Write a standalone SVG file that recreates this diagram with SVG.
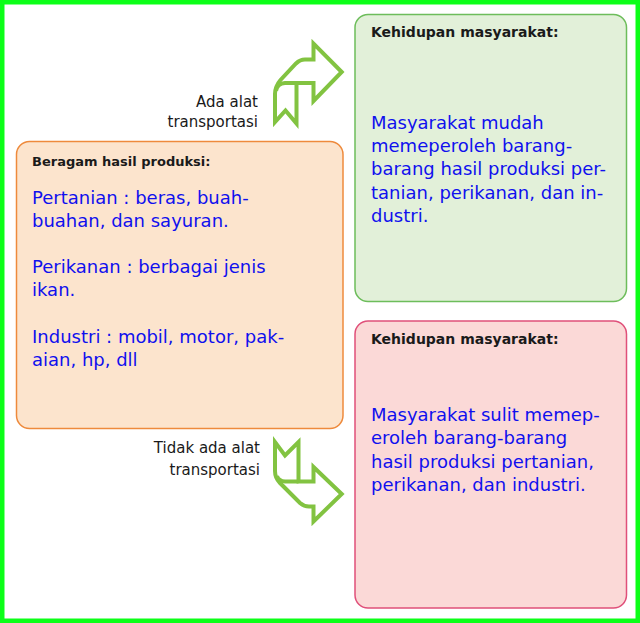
<svg xmlns="http://www.w3.org/2000/svg" width="640" height="623" viewBox="0 0 640 623">
<style>
.hdr{font-family:"DejaVu Sans",sans-serif;font-weight:bold;fill:#1a1a1a}
.blue{font-family:"DejaVu Sans",sans-serif;font-size:18px;fill:#1010ee}
.lbl{font-family:"DejaVu Sans",sans-serif;font-size:15px;fill:#1a1a1a;text-anchor:end}
.arrow{fill:none;stroke:#82c341;stroke-width:4;stroke-linejoin:miter}
</style>
<rect x="0" y="0" width="640" height="623" fill="#ffffff"/>
<rect x="2.25" y="2.25" width="635.5" height="618.5" fill="none" stroke="#0cff18" stroke-width="4.5"/>

<g id="produksi">
<rect x="16.5" y="141.5" width="326.5" height="287" rx="13" fill="#fce4cd" stroke="#ee8a3c" stroke-width="1.5"/>
<text class="hdr" x="32" y="166" font-size="13">Beragam hasil produksi:</text>
<text class="blue" x="32" y="204">Pertanian : beras, buah-</text>
<text class="blue" x="32" y="227">buahan, dan sayuran.</text>
<text class="blue" x="32" y="273">Perikanan : berbagai jenis</text>
<text class="blue" x="32" y="296">ikan.</text>
<text class="blue" x="32" y="343">Industri : mobil, motor, pak-</text>
<text class="blue" x="32" y="366">aian, hp, dll</text>
</g>

<g id="mudah">
<rect x="355" y="14.5" width="271.5" height="287" rx="13" fill="#e2f0d9" stroke="#6dbd5b" stroke-width="1.5"/>
<text class="hdr" x="371" y="37" font-size="14">Kehidupan masyarakat:</text>
<text class="blue" x="371" y="129">Masyarakat mudah</text>
<text class="blue" x="371" y="152.2">memeperoleh barang-</text>
<text class="blue" x="371" y="175.4">barang hasil produksi per-</text>
<text class="blue" x="371" y="198.6">tanian, perikanan, dan in-</text>
<text class="blue" x="371" y="221.8">dustri.</text>
</g>

<g id="sulit">
<rect x="355" y="321" width="271.5" height="287" rx="13" fill="#fbd9d7" stroke="#e0507a" stroke-width="1.5"/>
<text class="hdr" x="371" y="344" font-size="14">Kehidupan masyarakat:</text>
<text class="blue" x="371" y="421">Masyarakat sulit memep-</text>
<text class="blue" x="371" y="444.3">eroleh barang-barang</text>
<text class="blue" x="371" y="467.7">hasil produksi pertanian,</text>
<text class="blue" x="371" y="491">perikanan, dan industri.</text>
</g>

<g id="connectors">
<g id="arrow-ada">
<path class="arrow" d="M341.7,72 L313.5,43.5 L313.5,59.5 L305,59.5 Q300,59.5 296,63.5 L280.5,80 Q275,86.5 275,94 L275,122 L285.5,110.5 L296.5,123.5 L296.5,83 L313.5,83 L313.5,101 Z"/>
<path class="arrow" d="M296.5,83 L285,83 Q277,83.5 276,91"/>
<text class="lbl" x="258" y="107">Ada alat</text>
<text class="lbl" x="258" y="127">transportasi</text>
</g>
<g id="arrow-tidak">
<path class="arrow" d="M341.7,494 L313.5,467 L313.5,481.5 L298.5,481.5 L298.5,442 L285,455.5 L275,442 L275,471 Q275,478 280,483 L300,503 Q304,506.5 309,506.5 L313.5,506.5 L313.5,521.5 Z"/>
<path class="arrow" d="M298.5,481.5 L285,481.5 Q278.5,481 277,476"/>
<text class="lbl" x="260" y="453">Tidak ada alat</text>
<text class="lbl" x="260" y="475">transportasi</text>
</g>
</g>
</svg>
